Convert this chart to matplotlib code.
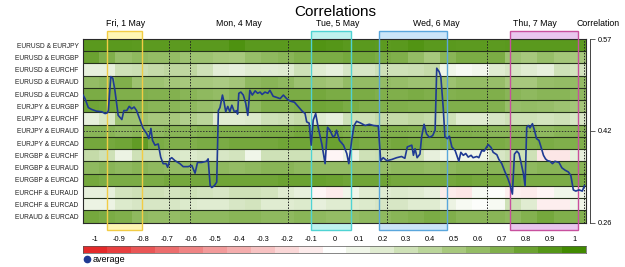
import numpy as np
import matplotlib.pyplot as plt
import matplotlib.transforms as mtransforms
from matplotlib.colors import LinearSegmentedColormap, Normalize
from matplotlib.patches import Rectangle
from matplotlib.lines import Line2D

plt.rcParams['font.family'] = ['Liberation Sans', 'DejaVu Sans']

# ---- data ----
pairs = ['EURUSD & EURJPY', 'EURUSD & EURGBP', 'EURUSD & EURCHF', 'EURUSD & EURAUD',
         'EURUSD & EURCAD', 'EURJPY & EURGBP', 'EURJPY & EURCHF', 'EURJPY & EURAUD',
         'EURJPY & EURCAD', 'EURGBP & EURCHF', 'EURGBP & EURAUD', 'EURGBP & EURCAD',
         'EURCHF & EURAUD', 'EURCHF & EURCAD', 'EURAUD & EURCAD']

total_hours = 123
day_names = ['Fri, 1 May', 'Mon, 4 May', 'Tue, 5 May', 'Wed, 6 May', 'Thu, 7 May']
day_centres = [10.5, 38.1, 62.3, 86.5, 110.5]
day_breaks = [21.1, 26.2, 50.1, 74.3, 98.7, 122.5]

# highlighted sessions (start hour, end hour)
session_start = [5.96, 55.8, 72.5, 104.5]
session_end = [14.5, 65.5, 88.9, 121.1]

# rolling correlation per pair, 31 time buckets
corr = np.array([
    [0.88, 0.88, 0.88, 0.87, 0.87, 0.87, 0.88, 0.88, 0.88, 0.93, 0.88, 0.88, 0.88, 0.88, 0.92, 0.90, 0.88, 0.88, 0.87, 0.88, 0.92, 0.88, 0.88, 0.87, 0.87, 0.87, 0.88, 0.88, 0.88, 0.88, 0.87],
    [0.80, 0.70, 0.58, 0.62, 0.60, 0.60, 0.55, 0.55, 0.52, 0.50, 0.58, 0.62, 0.65, 0.70, 0.72, 0.72, 0.75, 0.75, 0.72, 0.70, 0.60, 0.50, 0.65, 0.72, 0.72, 0.72, 0.55, 0.50, 0.58, 0.52, 0.50],
    [0.15, 0.15, 0.30, 0.32, 0.35, 0.38, 0.38, 0.30, 0.18, 0.15, 0.20, 0.18, 0.20, 0.30, 0.20, 0.15, 0.25, 0.25, 0.30, 0.30, 0.32, 0.35, 0.10, 0.05, 0.08, 0.20, 0.25, 0.20, 0.15, 0.30, 0.28],
    [0.60, 0.62, 0.70, 0.55, 0.55, 0.52, 0.50, 0.50, 0.48, 0.52, 0.62, 0.65, 0.62, 0.55, 0.55, 0.52, 0.60, 0.60, 0.60, 0.58, 0.55, 0.55, 0.55, 0.60, 0.60, 0.58, 0.50, 0.50, 0.58, 0.60, 0.60],
    [0.72, 0.72, 0.70, 0.70, 0.68, 0.68, 0.65, 0.62, 0.60, 0.65, 0.70, 0.72, 0.72, 0.72, 0.75, 0.72, 0.72, 0.72, 0.70, 0.70, 0.72, 0.70, 0.68, 0.70, 0.70, 0.70, 0.65, 0.62, 0.65, 0.65, 0.62],
    [0.78, 0.76, 0.74, 0.68, 0.65, 0.65, 0.62, 0.58, 0.55, 0.55, 0.62, 0.70, 0.70, 0.72, 0.78, 0.76, 0.72, 0.70, 0.70, 0.70, 0.68, 0.68, 0.70, 0.70, 0.70, 0.68, 0.58, 0.60, 0.58, 0.55, 0.52],
    [0.15, 0.25, 0.55, 0.55, 0.50, 0.50, 0.45, 0.40, 0.20, 0.20, 0.22, 0.30, 0.32, 0.35, 0.20, 0.15, 0.30, 0.30, 0.35, 0.35, 0.38, 0.35, 0.30, 0.20, 0.20, 0.25, 0.30, 0.30, 0.28, 0.30, 0.25],
    [0.65, 0.65, 0.62, 0.65, 0.62, 0.65, 0.65, 0.68, 0.70, 0.70, 0.70, 0.72, 0.72, 0.75, 0.75, 0.72, 0.70, 0.70, 0.70, 0.70, 0.68, 0.68, 0.70, 0.70, 0.68, 0.65, 0.65, 0.65, 0.62, 0.65, 0.65],
    [0.75, 0.75, 0.78, 0.85, 0.72, 0.70, 0.70, 0.72, 0.72, 0.75, 0.75, 0.75, 0.78, 0.78, 0.80, 0.80, 0.75, 0.72, 0.72, 0.75, 0.72, 0.70, 0.72, 0.72, 0.72, 0.72, 0.70, 0.70, 0.72, 0.70, 0.70],
    [0.35, 0.30, 0.12, 0.30, 0.30, 0.25, 0.22, 0.25, 0.25, 0.28, 0.10, 0.30, 0.30, 0.30, 0.25, -0.05, 0.12, 0.30, 0.32, 0.30, 0.30, 0.15, 0.10, 0.10, 0.10, 0.25, 0.30, 0.30, -0.12, -0.12, 0.15],
    [0.62, 0.65, 0.62, 0.65, 0.62, 0.60, 0.60, 0.62, 0.62, 0.60, 0.62, 0.65, 0.65, 0.62, 0.60, 0.60, 0.60, 0.60, 0.60, 0.62, 0.62, 0.60, 0.62, 0.65, 0.65, 0.65, 0.62, 0.62, 0.65, 0.65, 0.65],
    [0.75, 0.72, 0.72, 0.72, 0.72, 0.75, 0.75, 0.75, 0.78, 0.78, 0.78, 0.78, 0.80, 0.80, 0.82, 0.80, 0.78, 0.78, 0.78, 0.75, 0.75, 0.75, 0.75, 0.78, 0.75, 0.75, 0.75, 0.72, 0.72, 0.72, 0.72],
    [0.15, 0.15, 0.28, 0.30, 0.30, 0.28, 0.30, 0.28, 0.25, 0.30, 0.30, 0.28, 0.20, 0.15, -0.05, -0.10, 0.10, 0.20, 0.20, 0.22, 0.20, 0.15, -0.10, -0.12, 0.05, 0.02, -0.08, -0.10, -0.05, 0.10, 0.10],
    [0.12, 0.12, 0.22, 0.25, 0.25, 0.25, 0.22, 0.20, 0.20, 0.25, 0.28, 0.20, 0.20, 0.22, 0.15, 0.20, 0.20, 0.22, 0.25, 0.25, 0.20, 0.20, 0.12, 0.05, 0.02, 0.05, 0.30, 0.20, -0.08, -0.08, 0.10],
    [0.75, 0.72, 0.70, 0.62, 0.60, 0.60, 0.62, 0.62, 0.62, 0.65, 0.65, 0.62, 0.62, 0.65, 0.62, 0.60, 0.60, 0.62, 0.62, 0.65, 0.68, 0.72, 0.70, 0.65, 0.65, 0.65, 0.62, 0.68, 0.75, 0.70, 0.68],
])

# average correlation line (hour, value)
avg_hours = [0.0, 0.5, 1.3, 2.1, 3.3, 4.6, 5.4, 5.9, 6.2, 6.8, 7.3, 7.8, 8.6, 9.5, 10.0, 10.7,
             11.3, 11.9, 12.5, 13.1, 13.8, 14.7, 15.6, 16.1, 16.6, 17.0, 17.6, 18.4, 19.0, 19.6,
             20.3, 20.7, 21.3, 21.7, 22.5, 23.7, 24.5, 25.7, 26.6, 27.4, 28.0, 29.0, 30.2, 30.6,
             31.1, 31.5, 32.1, 32.7, 33.1, 33.5, 34.1, 34.5, 34.9, 35.4, 35.9, 36.4, 37.0, 37.6,
             37.8, 38.1, 38.6, 39.2, 39.8, 40.3, 40.8, 41.4, 42.1, 42.7, 43.3, 43.8, 44.5, 45.2,
             45.7, 46.5, 47.4, 48.2, 49.0, 49.8, 50.6, 51.7, 52.6, 53.6, 54.3, 54.7, 55.3, 55.8,
             56.3, 56.9, 57.5, 58.4, 59.2, 59.8, 60.4, 61.1, 61.6, 62.0, 62.7, 63.7, 64.5, 65.0,
             65.7, 66.3, 66.9, 67.9, 69.0, 70.0, 71.0, 72.2, 72.8, 73.4, 74.3, 75.5, 76.7, 77.9,
             78.7, 79.3, 80.4, 80.8, 81.2, 81.7, 82.4, 82.8, 83.4, 84.0, 84.7, 85.5, 86.1, 86.5,
             87.1, 87.5, 88.1, 88.5, 89.1, 89.6, 90.2, 91.0, 91.9, 92.4, 93.0, 93.6, 94.2, 94.9,
             95.4, 96.3, 96.8, 97.5, 98.1, 98.7, 99.1, 99.8, 100.3, 101.2, 101.7, 102.4, 103.2,
             103.9, 104.4, 105.0, 105.5, 106.1, 106.6, 107.1, 107.7, 108.1, 108.5, 108.9, 109.3,
             109.9, 110.4, 110.9, 111.5, 112.0, 112.6, 113.1, 113.6, 114.2, 114.8, 115.4, 116.4,
             117.1, 117.9, 118.7, 119.3, 119.9, 120.5, 121.3, 122.1, 122.6]
avg_values = [0.479, 0.473, 0.458, 0.455, 0.452, 0.451, 0.448, 0.449, 0.453, 0.510, 0.507, 0.487,
              0.445, 0.438, 0.453, 0.453, 0.460, 0.456, 0.459, 0.453, 0.440, 0.423, 0.414, 0.406,
              0.423, 0.403, 0.395, 0.397, 0.375, 0.364, 0.364, 0.358, 0.372, 0.374, 0.369, 0.364,
              0.359, 0.359, 0.361, 0.348, 0.366, 0.366, 0.368, 0.372, 0.327, 0.324, 0.327, 0.333,
              0.453, 0.458, 0.479, 0.467, 0.451, 0.460, 0.451, 0.462, 0.451, 0.453, 0.447, 0.482,
              0.484, 0.479, 0.465, 0.445, 0.487, 0.479, 0.486, 0.482, 0.484, 0.480, 0.484, 0.482,
              0.487, 0.477, 0.475, 0.473, 0.479, 0.473, 0.469, 0.467, 0.460, 0.452, 0.448, 0.434,
              0.432, 0.395, 0.437, 0.448, 0.425, 0.397, 0.364, 0.425, 0.420, 0.409, 0.411, 0.420,
              0.403, 0.395, 0.381, 0.364, 0.403, 0.428, 0.435, 0.432, 0.428, 0.430, 0.428, 0.427,
              0.369, 0.374, 0.369, 0.371, 0.374, 0.376, 0.373, 0.392, 0.395, 0.378, 0.389, 0.374,
              0.380, 0.409, 0.430, 0.414, 0.408, 0.411, 0.420, 0.524, 0.518, 0.510, 0.456, 0.409,
              0.406, 0.410, 0.392, 0.386, 0.368, 0.383, 0.378, 0.381, 0.375, 0.378, 0.374, 0.376,
              0.374, 0.386, 0.385, 0.392, 0.396, 0.391, 0.383, 0.379, 0.371, 0.364, 0.350, 0.339,
              0.329, 0.313, 0.380, 0.385, 0.381, 0.366, 0.347, 0.327, 0.425, 0.428, 0.424, 0.431,
              0.420, 0.406, 0.403, 0.392, 0.378, 0.372, 0.369, 0.368, 0.364, 0.368, 0.366, 0.357,
              0.353, 0.350, 0.344, 0.320, 0.318, 0.320, 0.318, 0.327]

avg_min, avg_mid, avg_max = 0.265, 0.419, 0.573
avg_tick_labels = ['0.26', '0.42', '0.57']
scale_values = [-1, -0.9, -0.8, -0.7, -0.6, -0.5, -0.4, -0.3, -0.2, -0.1, 0,
                0.1, 0.2, 0.3, 0.4, 0.5, 0.6, 0.7, 0.8, 0.9, 1]
scale_labels = ['-1', '-0.9', '-0.8', '-0.7', '-0.6', '-0.5', '-0.4', '-0.3', '-0.2', '-0.1', '0',
                '0.1', '0.2', '0.3', '0.4', '0.5', '0.6', '0.7', '0.8', '0.9', '1']

# ---- style ----
cmap = LinearSegmentedColormap.from_list('corr', [
    (0.0, '#e42a2a'), (0.25, '#f29a9a'), (0.5, '#ffffff'),
    (0.625, '#d8e7c6'), (0.75, '#a8c97e'), (0.875, '#76a93f'), (1.0, '#418a00')])
norm = Normalize(-1, 1)
session_fill = ['#fff6b4', '#bff2ee', '#cce5f8', '#e9c6ee']
session_edge = ['#f2cc45', '#4fd3d3', '#5aa6dc', '#c8509e']
line_col = '#1f3a93'

W, H = 625, 267
fig = plt.figure(figsize=(W / 100, H / 100), dpi=100)
ax = fig.add_axes([83 / W, 44.3 / H, 503 / W, 183.7 / H])

x_edges = np.linspace(0, total_hours, corr.shape[1] + 1)
y_edges = np.arange(len(pairs) + 1)
ax.pcolormesh(x_edges, y_edges, corr, cmap=cmap, norm=norm, zorder=1)
ax.set_xlim(0, total_hours)
ax.set_ylim(len(pairs), 0)

for r in y_edges[1:-1]:
    ax.axhline(r, color='#26331c', lw=0.8, zorder=2)
for b in day_breaks:
    ax.axvline(b, color='#222222', lw=0.7, ls=(0, (1.5, 1.5)), zorder=2)

trans = mtransforms.blended_transform_factory(ax.transData, ax.transAxes)
for s, e, fc, ec in zip(session_start, session_end, session_fill, session_edge):
    ax.add_patch(Rectangle((s, -0.04), e - s, 1.083, transform=trans, clip_on=False,
                           facecolor=fc, edgecolor='none', zorder=0))
    ax.add_patch(Rectangle((s, -0.04), e - s, 1.083, transform=trans, clip_on=False,
                           facecolor='none', edgecolor=ec, lw=1.0, zorder=3))

for name, c in zip(day_names, day_centres):
    ax.text(c, 1.085, name, transform=trans, ha='center', va='center', fontsize=6.3)
fig.text(598 / W, 1 - 24 / H, 'Correlation', ha='center', va='center', fontsize=6.3)
fig.text(335 / W, 1 - 12 / H, 'Correlations', ha='center', va='center', fontsize=11)

ax.set_xticks([])
ax.set_yticks(y_edges[:-1] + 0.5)
ax.set_yticklabels(pairs, color='#222222')
ax.tick_params(axis='y', length=0, pad=3.2, labelsize=4.8)
for sp in ax.spines.values():
    sp.set_color('#2a2a2a')
    sp.set_linewidth(0.8)

# average line on secondary scale
ax2 = ax.twinx()
ax2.set_ylim(avg_min, avg_max)
ax2.axhline(avg_mid, color='#333333', lw=0.7, ls=(0, (1.5, 1.5)))
ax2.plot(avg_hours, avg_values, color=line_col, lw=1.2)
ax2.set_yticks([avg_min, avg_mid, avg_max])
ax2.set_yticklabels(avg_tick_labels)
ax2.tick_params(axis='y', length=3.5, width=0.6, pad=2, color='#444444', labelsize=5.3)
for k in ['left', 'top', 'bottom']:
    ax2.spines[k].set_visible(False)
ax2.spines['right'].set_position(('outward', 3))
ax2.spines['right'].set_color('#444444')
ax2.spines['right'].set_linewidth(0.7)

# colour scale
cax = fig.add_axes([83 / W, (H - 253.3) / H, 503 / W, 7.3 / H])
s_edges = np.linspace(-1.05, 1.05, len(scale_values) + 1)
cax.pcolormesh(s_edges, [0, 1], np.array([scale_values]), cmap=cmap, norm=norm)
cax.set_xlim(-1.05, 1.05)
cax.set_yticks([])
cax.set_xticks(scale_values)
cax.set_xticklabels(scale_labels)
cax.tick_params(axis='x', top=True, labeltop=True, bottom=False, labelbottom=False,
                length=0, pad=2.5, labelsize=5.3)
for sp in cax.spines.values():
    sp.set_color('#555555')
    sp.set_linewidth(0.5)

# legend
fig.add_artist(Line2D([87 / W], [1 - 259 / H], transform=fig.transFigure, marker='o',
                      markersize=4.5, color=line_col, ls='none'))
fig.text(92.5 / W, 1 - 259.5 / H, 'average', ha='left', va='center', fontsize=6.5)

fig.savefig('out.png', dpi=100)
